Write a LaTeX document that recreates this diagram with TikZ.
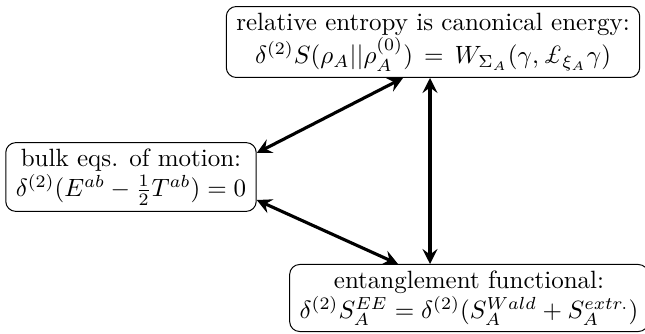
\documentclass[tikz,border=0pt]{standalone}
\usetikzlibrary{arrows.meta}
\tikzset{
	eqbox/.style={draw,rounded corners=4pt,align=center,inner xsep=4pt,inner ysep=2.5pt}
}
\begin{document}
\begin{tikzpicture}[>={Stealth[length=6pt,width=6pt,inset=2.2pt]},x=0.40pt,y=-0.40pt]
		\useasboundingbox (0,0) rectangle (645,333);
		\node[eqbox] (canon) at (433,42)
		{relative entropy is canonical energy:\\
		$\delta^{(2)}S(\rho_A||\rho_A^{(0)})\,=\,W_{\Sigma_A}(\gamma,\pounds_{\xi_A}\gamma)$};
		\node[eqbox] (bulk) at (131,177)
		{bulk eqs. of motion:\\
		$\delta^{(2)}(E^{ab}-\frac{1}{2}T^{ab})=0$};
		\node[eqbox] (ent) at (469,298)
		{entanglement functional:\\
		$\delta^{(2)}S_A^{EE}=\delta^{(2)}(S_A^{Wald}+S_A^{extr.})$};
		\draw[line width=1.25pt,<->] (canon.south -| 403,0) -- (bulk.east |- 0,153);
		\draw[line width=1.25pt,<->] (bulk.east |- 0,200) -- (ent.north -| 398,0);
		\draw[line width=1.25pt,<->] (canon.south -| 430,0) -- (ent.north -| 430,0);
	\end{tikzpicture}
\end{document}
